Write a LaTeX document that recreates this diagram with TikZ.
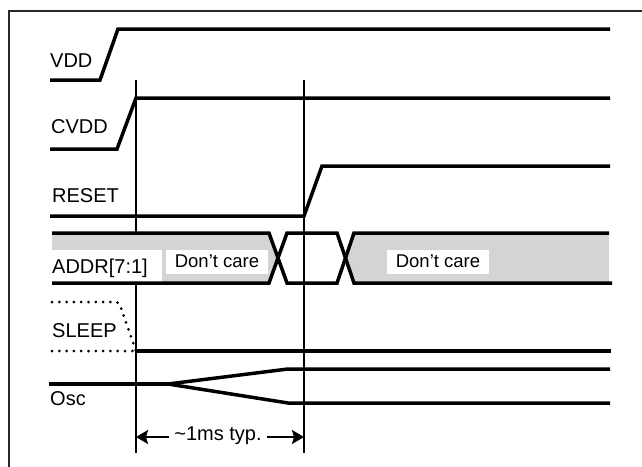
\documentclass[tikz,border=0pt]{standalone}
\usepackage{fontspec}
\setmainfont{Liberation Sans}
\usetikzlibrary{arrows.meta}
\definecolor{bandgray}{RGB}{212,212,212}
\definecolor{framegray}{RGB}{40,40,40}
\tikzset{
  sig/.style={line width=3.5pt, line cap=butt, line join=miter},
  marker/.style={line width=1.2pt},
  dots/.style={line width=3pt, line cap=round, dash pattern=on 0pt off 7.3pt},
  lbl/.style={anchor=base west, inner sep=0pt, font=\fontsize{20}{24}\selectfont},
  dcbox/.style={fill=white, draw=none, minimum width=102pt, minimum height=24pt, inner sep=0pt},
  dctext/.style={anchor=base, inner sep=0pt, font=\fontsize{18.5}{22}\selectfont},
  dimarrow/.style={line width=1.5pt, {Stealth[length=12pt,width=14pt,inset=2pt]}-{Stealth[length=12pt,width=14pt,inset=2pt]}}
}
\begin{document}
\begin{tikzpicture}[x=1pt,y=-1pt]
\useasboundingbox (0,0) rectangle (642,466);
% frame (only left and top edge visible)
\coordinate (fbl) at (9,470);
\coordinate (ftl) at (9,11);
\coordinate (ftr) at (646,11);
\draw[line width=2pt, framegray] (fbl) -- (ftl) -- (ftr);

% timing markers
\coordinate (m1top) at (136,80);
\coordinate (m1bot) at (136,453);
\coordinate (m2top) at (304,80);
\coordinate (m2bot) at (304,453);
\draw[marker] (m1top) -- (m1bot);
\draw[marker] (m2top) -- (m2bot);

% ADDR band fills
\fill[bandgray] (52,233) -- (269,233) -- (278,258) -- (269,283) -- (52,283) -- cycle;
\fill[bandgray] (354,233) -- (609,233) -- (609,283) -- (354,283) -- (345.5,258) -- cycle;
\fill[white] (52,250) rectangle (162,283);
\node[dcbox] (dc1) at (217,262) {};
\node[dcbox] (dc2) at (438,261.5) {};
\node[dctext] (dc1t) at (217,267) {Don’t care};
\node[dctext] (dc2t) at (438,267) {Don’t care};

% labels
\node[lbl] (lvdd) at (50,67) {VDD};
\node[lbl] (lcvdd) at (51,133) {CVDD};
\node[lbl] (lreset) at (52,202) {RESET};
\node[lbl] (laddr) at (52,273) {ADDR[7:1]};
\node[lbl] (lsleep) at (52,337) {SLEEP};
\node[lbl] (losc) at (50,405) {Osc};

% VDD
\draw[sig] (50,80) -- (100,80) -- (118,29) -- (610,29);
% CVDD
\draw[sig] (50,149) -- (117,149) -- (m1top |- 0,98) -- (610,98);
% RESET
\draw[sig] (50,216) -- (m2top |- 0,216) -- (322,166) -- (610,166);
% ADDR
\draw[sig] (52,233) -- (269,233) -- (287,283) -- (337,283) -- (354,233) -- (609,233);
\draw[sig] (52,283) -- (269,283) -- (287,233) -- (337,233) -- (354,283) -- (612,283);
% SLEEP
\coordinate (slp) at (136,351);
\draw[dots] (52,302) -- (113,302) .. controls (119,302) .. (122,311) -- (slp);
\draw[dots] (52,351) -- (slp);
\draw[sig] (slp) -- (611,351);
% Osc
\coordinate (osc0) at (49,384);
\coordinate (oscs) at (168,384);
\draw[sig] (osc0) -- (oscs);
\draw[sig] (oscs) -- (288,369) -- (610,369);
\draw[sig] (oscs) -- (288,403) -- (610,403);

% dimension arrow
\coordinate (a1) at (m1top |- 0,437);
\coordinate (a2) at (m2top |- 0,437);
\draw[dimarrow] (a1) -- (a2);
\node[anchor=base, fill=white, inner xsep=5pt, inner ysep=1pt, font=\fontsize{20}{24}\selectfont] (dim) at (218,440) {\textasciitilde1ms typ.};
\end{tikzpicture}
\end{document}
